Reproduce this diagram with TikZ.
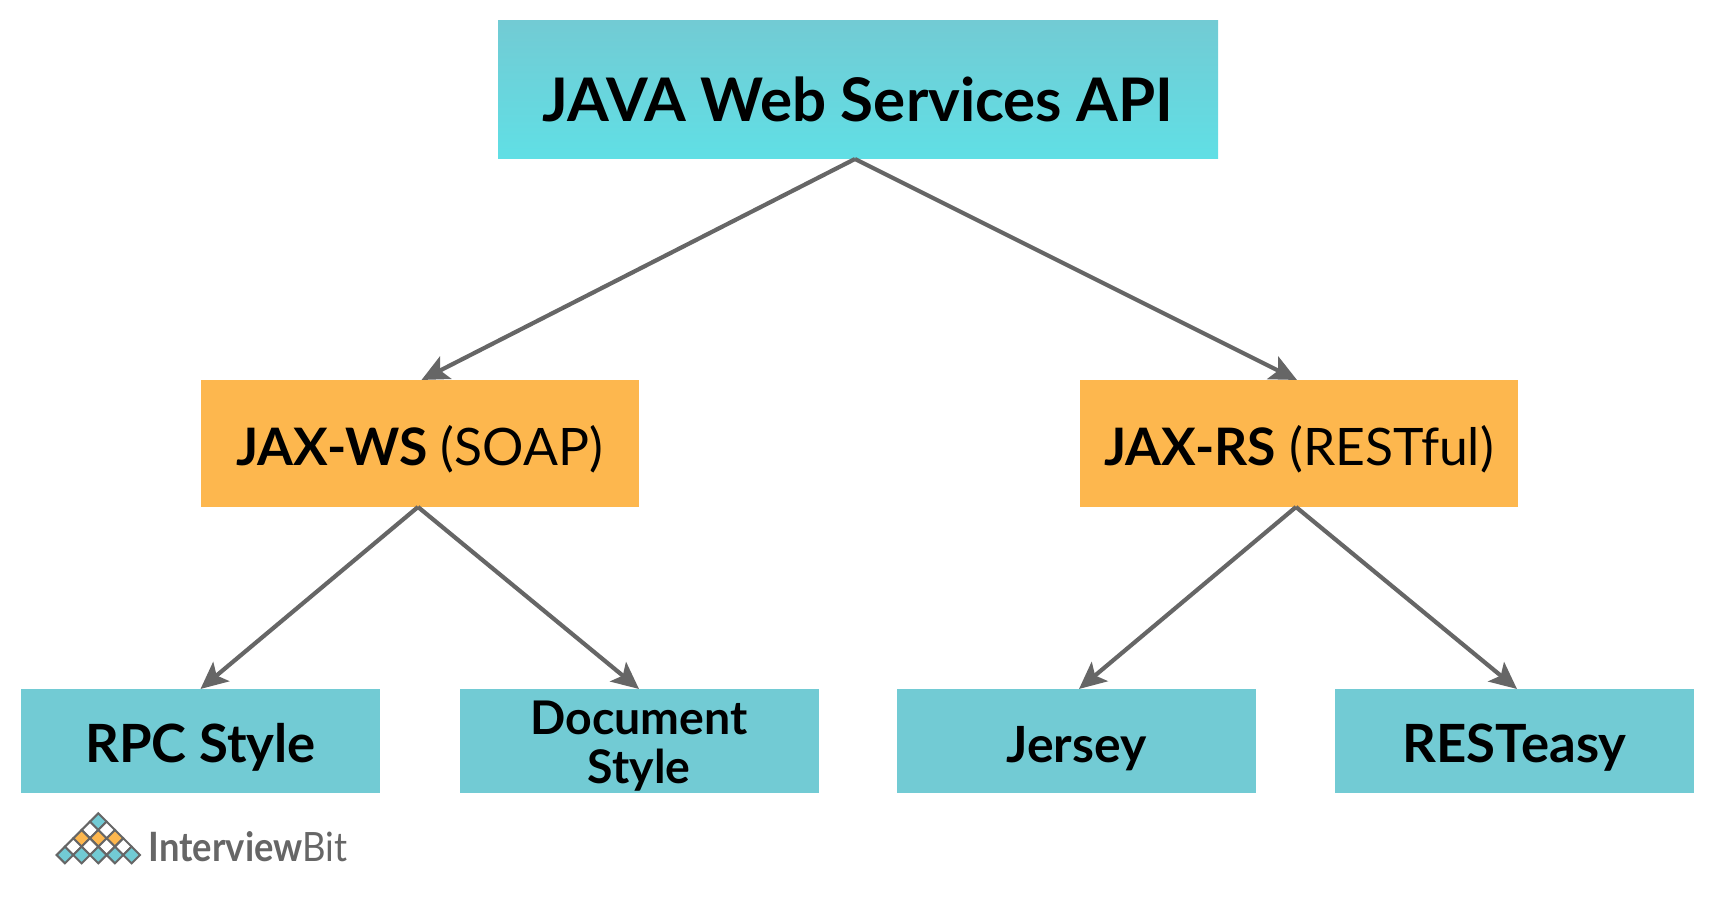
\documentclass[tikz,border=0pt]{standalone}
\usepackage{fontspec}
\setmainfont{Lato}
\usetikzlibrary{arrows.meta}
\definecolor{r114g203b212}{RGB}{114,203,212}
\definecolor{r96g223b229}{RGB}{96,223,229}
\definecolor{r253g183b78}{RGB}{253,183,78}
\definecolor{r102g102b102}{RGB}{102,102,102}
\tikzset{
  rootbox/.style={inner sep=0, outer sep=0, minimum width=7.20cm, minimum height=1.38cm,
    top color=r114g203b212, bottom color=r96g223b229, text height=0.64cm, text depth=0cm,
    font=\fontsize{17.1}{20}\selectfont\bfseries},
  apibox/.style={inner sep=0, outer sep=0, minimum width=4.38cm, minimum height=1.27cm,
    fill=r253g183b78, text height=0.44cm, text depth=0cm, font=\fontsize{14.7}{18}\selectfont},
  stylebox/.style={inner sep=0, outer sep=0, minimum width=3.59cm, minimum height=1.04cm,
    fill=r114g203b212, text height=0.44cm, text depth=0cm, align=center,
    font=\fontsize{#1}{13.9}\selectfont\bfseries},
  stylebox/.default=15,
  link/.style={draw=r102g102b102, line width=0.042cm,
    -{Stealth[length=0.27cm, width=0.25cm, inset=0.06cm]}},
  tile/.style={draw=r102g102b102, line width=0.02cm},
}
\begin{document}
\begin{tikzpicture}
  \useasboundingbox (0,0) rectangle (17.16,9.04);

  % Drawing the boxes
  \node [rootbox] (root) at (8.58,8.14) {JAVA Web Services API};
  \node [apibox] (jaxws) at (4.195,4.605) {\textbf{JAX-WS} (SOAP)};
  \node [apibox] (jaxrs) at (12.99,4.605) {\textbf{JAX-RS} (RESTful)};
  \node [stylebox] (rpc) at (2.005,1.63) {RPC Style};
  \node [stylebox=13.2, text height=0.85cm] (document) at (6.39,1.63) {Document\\Style};
  \node [stylebox=14.2] (jersey) at (10.765,1.63) {Jersey};
  \node [stylebox] (resteasy) at (15.145,1.63) {RESTeasy};

  % Drawing arrows root to api
  \draw [link] ([xshift=-0.03cm]root.south) -- ([xshift=0.02cm]jaxws.north);
  \draw [link] ([xshift=-0.03cm]root.south) -- ([xshift=-0.02cm]jaxrs.north);

  % Drawing arrows api to style
  \draw [link] ([xshift=-0.015cm]jaxws.south) -- (rpc.north);
  \draw [link] ([xshift=-0.015cm]jaxws.south) -- (document.north);
  \draw [link] ([xshift=-0.03cm]jaxrs.south) -- ([xshift=0.025cm]jersey.north);
  \draw [link] ([xshift=-0.03cm]jaxrs.south) -- ([xshift=0.025cm]resteasy.north);

  % Drawing logo tiles, row by row from the top
  \foreach \row/\rowcolor in {0/r114g203b212, 1/white, 2/r253g183b78, 3/white, 4/r114g203b212} {
    \foreach \col in {0,...,\row} {
      \draw [tile, fill=\rowcolor]
        ({0.983+(\col-\row/2)*0.1667},{0.823-\row*0.0833+0.0833}) --
        ({0.983+(\col-\row/2)*0.1667+0.0833},{0.823-\row*0.0833}) --
        ({0.983+(\col-\row/2)*0.1667},{0.823-\row*0.0833-0.0833}) --
        ({0.983+(\col-\row/2)*0.1667-0.0833},{0.823-\row*0.0833}) -- cycle;
    }
  }

  % Marking logo name
  \node [anchor=base west, inner sep=0, text=r102g102b102, xscale=0.9, transform shape,
    font=\fontsize{11.5}{14}\selectfont] (logoname) at (1.48,0.42) {\textbf{Interview}Bit};
\end{tikzpicture}
\end{document}
